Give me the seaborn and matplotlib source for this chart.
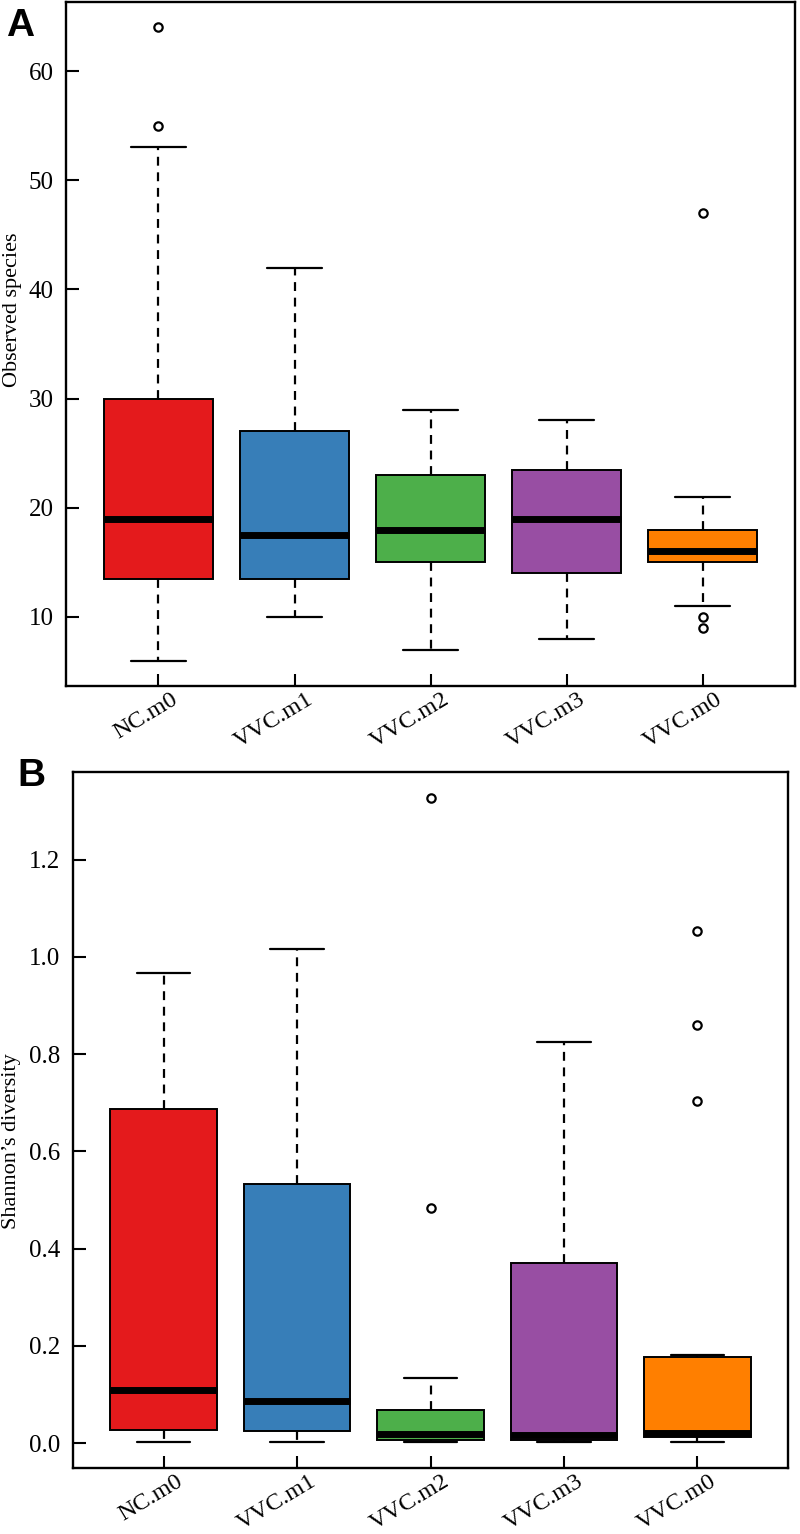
import numpy as np
import seaborn as sns
import matplotlib
matplotlib.use("Agg")
import matplotlib.pyplot as plt
import matplotlib.transforms as mtransforms

# group names (x axis)
groups = ["NC.m0", "VVC.m1", "VVC.m2", "VVC.m3", "VVC.m0"]

# Panel A: observed species, five-number summary
obs_low = [6, 10, 7, 8, 11]
obs_q1 = [13.5, 13.5, 15, 14, 15]
obs_med = [19, 17.5, 18, 19, 16]
obs_q3 = [30, 27, 23, 23.5, 18]
obs_high = [53, 42, 29, 28, 21]
obs_out = [[55, 64], [], [], [], [47, 10, 9]]
obs_ticks = [10, 20, 30, 40, 50, 60]

# Panel B: Shannon's diversity
shan_low = [0.003, 0.003, 0.002, 0.002, 0.002]
shan_q1 = [0.028, 0.026, 0.006, 0.006, 0.012]
shan_med = [0.109, 0.087, 0.018, 0.017, 0.022]
shan_q3 = [0.687, 0.534, 0.068, 0.370, 0.178]
shan_high = [0.966, 1.016, 0.134, 0.824, 0.182]
shan_out = [[], [], [0.484, 1.327], [], [0.704, 0.859, 1.053]]
shan_ticks = [0.0, 0.2, 0.4, 0.6, 0.8, 1.0, 1.2]

sns.set_style("ticks")
plt.rcParams["font.family"] = ["Liberation Serif", "DejaVu Serif"]
plt.rcParams["text.color"] = "black"
plt.rcParams["axes.labelcolor"] = "black"
colors = sns.color_palette("Set1", 5)


def draw_panel(ax, low, q1, med, q3, high, out, ticks, fmt, ylabel, ylab_xy, letter, lx, ly):
    stats = []
    for i, g in enumerate(groups):
        stats.append(dict(label=g, whislo=low[i], q1=q1[i], med=med[i],
                          q3=q3[i], whishi=high[i], fliers=out[i]))
    bp = ax.bxp(stats, positions=range(len(groups)), widths=0.8,
                capwidths=0.4, patch_artist=True, showfliers=True,
                boxprops=dict(edgecolor="black", linewidth=1.4),
                medianprops=dict(color="black", linewidth=5, solid_capstyle="butt"),
                whiskerprops=dict(color="black", linewidth=1.6, linestyle=(0, (4, 3))),
                capprops=dict(color="black", linewidth=1.6),
                flierprops=dict(marker="o", markersize=6, markerfacecolor="white",
                                markeredgecolor="black", markeredgewidth=1.6))
    for patch, c in zip(bp["boxes"], colors):
        patch.set_facecolor(c)

    allv = low + high + [v for o in out for v in o]
    lo, hi = min(allv), max(allv)
    r = hi - lo
    ax.set_ylim(lo - 0.04 * r, hi + 0.04 * r)
    ax.set_xlim(-0.68, len(groups) - 0.32)

    ax.set_yticks(ticks)
    ax.set_yticklabels([fmt.format(t) for t in ticks])
    ax.set_xticks(range(len(groups)))
    ax.set_xticklabels(groups, rotation=31, ha="right", rotation_mode="anchor")
    ax.tick_params(axis="both", direction="in", length=9, width=1.5,
                   labelsize=18, pad=9, colors="black")
    ax.tick_params(axis="x", labelsize=17.5, pad=2)
    shift = mtransforms.ScaledTranslation(12 / 100, 0, ax.figure.dpi_scale_trans)
    for lab in ax.get_xticklabels():
        lab.set_transform(lab.get_transform() + shift)
    ax.set_ylabel(ylabel, fontsize=16)
    ax.yaxis.set_label_coords(*ylab_xy)
    for s in ax.spines.values():
        s.set_linewidth(1.7)
        s.set_color("black")
        s.set_visible(True)
    ax.figure.text(lx, ly, letter, fontsize=28, fontweight="bold", color="black",
                   family="Liberation Sans", va="top", ha="left")


fig = plt.figure(figsize=(8, 15.34), dpi=100)
ax1 = fig.add_axes([0.0825, 0.5528, 0.9113, 0.4459])
ax2 = fig.add_axes([0.0913, 0.0430, 0.8937, 0.4537])

draw_panel(ax1, obs_low, obs_q1, obs_med, obs_q3, obs_high, obs_out,
           obs_ticks, "{:d}", "Observed species", (-0.060, 0.55), "A", 0.008, 0.995)
draw_panel(ax2, shan_low, shan_q1, shan_med, shan_q3, shan_high, shan_out,
           shan_ticks, "{:.1f}", "Shannon\u2019s diversity", (-0.073, 0.47), "B", 0.022, 0.506)

fig.savefig("out.png", dpi=100)
